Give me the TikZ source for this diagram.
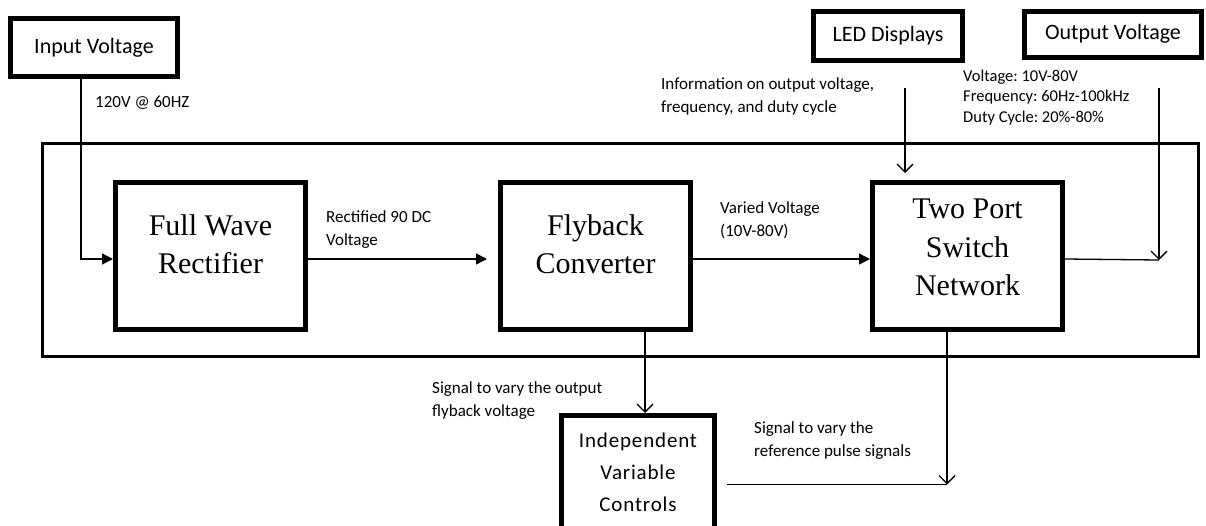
\documentclass[tikz,border=0pt]{standalone}
\usepackage{fontspec}
\setmainfont{Liberation Serif}
\newfontfamily\calibri{Carlito}
\newfontfamily\calibriwide[LetterSpace=4]{Carlito}
\usetikzlibrary{positioning, arrows.meta}
\frenchspacing

\begin{document}
\begin{tikzpicture}[x=1pt,y=-1pt,
    block/.style={draw,line width=5pt,minimum width=190pt,minimum height=147pt,inner sep=0pt},
    blocktext/.style={align=center,inner sep=0pt,font=\fontsize{30}{38.5}\selectfont},
    srcbox/.style={draw,line width=5pt,inner sep=0pt,font=\calibri\fontsize{22}{26}\selectfont},
    lbl/.style={anchor=west,align=left,inner sep=0pt,font=\calibri\fontsize{17}{23}\selectfont},
    wire/.style={line width=1.3pt},
    fill arrow/.style={wire,-{Triangle[length=11pt,width=11pt]}},
    open arrow/.style={wire,-{Straight Barb[length=8pt,width=16pt]}}]
    \useasboundingbox (0,0) rectangle (1206,525);

    % system frame
    \node[draw,line width=2.7pt,minimum width=1156.4pt,minimum height=213.4pt,inner sep=0pt] (frame) at (620.5,250) {};

    % inputs and outputs
    \node[srcbox,minimum width=167pt,minimum height=58pt] (vin) at (94,47.5) {Input Voltage};
    \node[srcbox,minimum width=149pt,minimum height=49pt] (led) at (888,36) {LED Displays};
    \node[srcbox,minimum width=177pt,minimum height=46pt] (vout) at (1113,34) {Output Voltage};

    % main stages
    \node[block] (rect) at (210.5,256) {};
    \node[block] (fly) at (595.5,256) {};
    \node[block] (tps) at (967.5,256) {};
    \node[blocktext] (rect-txt) at ([yshift=12pt]rect.center) {Full Wave\\Rectifier};
    \node[blocktext] (fly-txt) at ([yshift=12pt]fly.center) {Flyback\\Converter};
    \node[blocktext] (tps-txt) at ([yshift=8.5pt]tps.center) {Two Port\\Switch\\Network};

    \node[block,minimum width=153pt,minimum height=114.5pt,align=center,
          font=\calibriwide\fontsize{21}{32}\selectfont] (ctrl) at (638,472.75) {Independent\\Variable\\Controls};

    % connectors
    \coordinate (led-top) at (905,88);
    \coordinate (vout-top) at (1159,88);
    \coordinate (vout-in) at (1159,260);
    \coordinate (fly-drop) at ([xshift=49.5pt]fly.south);
    \coordinate (tps-drop) at ([xshift=-20.5pt]tps.south);
    \coordinate (ctrl-out) at ([xshift=10pt,yshift=-11.75pt]ctrl.east);
    \coordinate (ctrl-join) at (tps-drop |- ctrl-out);

    \draw[fill arrow] ([xshift=-13pt]vin.south) |- ([yshift=-3pt]rect.west);
    \draw[fill arrow,shorten >=11pt] ([yshift=-3pt]rect.east) -- ([yshift=-3pt]fly.west);
    \draw[fill arrow] ([yshift=-3pt]fly.east) -- ([yshift=-3pt]tps.west);
    \draw[open arrow,shorten >=7pt] (led-top) -- (led-top |- tps.north);
    \draw[open arrow] (vout-top) -- (vout-in);
    \draw[wire] ([yshift=-3pt]tps.east) -- (vout-in);
    \draw[open arrow] (fly-drop) -- (fly-drop |- ctrl.north);
    \draw[open arrow] (tps-drop) -- (ctrl-join);
    \draw[wire] (ctrl-out) -- (ctrl-join);

    % signal labels
    \node[lbl] (lbl-vin) at (95,103) {120V @ 60HZ};
    \node[lbl] (lbl-rect) at (326,229.5) {Rectified 90 DC\\Voltage};
    \node[lbl] (lbl-fly) at (720,220.5) {Varied Voltage\\(10V-80V)};
    \node[lbl] (lbl-led) at (661,96.5) {Information on output voltage,\\frequency, and duty cycle};
    \node[lbl,font=\calibri\fontsize{16.5}{20.5}\selectfont] (lbl-vout) at (963,97.5) {Voltage: 10V-80V\\Frequency: 60Hz-100kHz\\Duty Cycle: 20\%-80\%};
    \node[lbl] (lbl-ctrl) at (432,400.5) {Signal to vary the output\\flyback voltage};
    \node[lbl] (lbl-tps) at (754,441) {Signal to vary the\\reference pulse signals};
\end{tikzpicture}
\end{document}
